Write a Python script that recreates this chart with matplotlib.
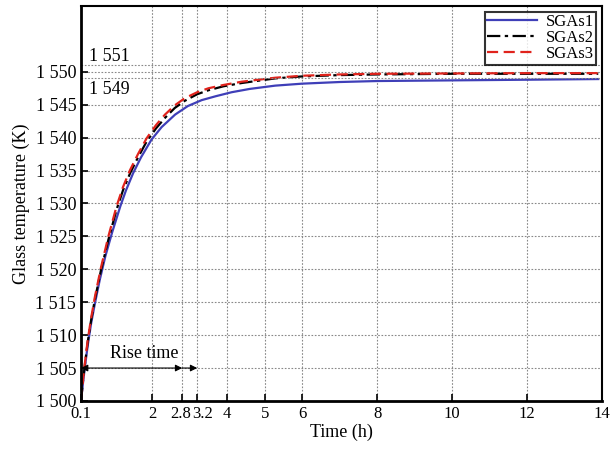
import numpy as np
import matplotlib
matplotlib.use('Agg')
import matplotlib.pyplot as plt
import matplotlib.transforms as mtransforms

plt.rcParams['font.family'] = ['Liberation Serif', 'DejaVu Serif']

# data
t1 = [0.1, 0.15, 0.2, 0.28, 0.37, 0.47, 0.6, 0.75, 0.93, 1.15, 1.3, 1.49, 1.7, 1.98, 2.25, 2.61,
      2.95, 3.32, 3.7, 4.12, 4.6, 5.28, 6.0, 7.0, 8.0, 10.0, 12.0, 13.9]
sgas1 = [1500, 1502.6, 1505, 1508.5, 1511.8, 1514.8, 1518.4, 1522, 1525.6, 1529.6, 1532, 1534.6, 1537, 1539.7, 1541.6, 1543.5,
         1544.8, 1545.7, 1546.3, 1546.9, 1547.4, 1547.9, 1548.2, 1548.45, 1548.6, 1548.7, 1548.8, 1548.9]

t23 = [0.1, 0.15, 0.2, 0.28, 0.37, 0.47, 0.63, 0.83, 1.05, 1.22, 1.41, 1.62, 1.85, 2.1, 2.34, 2.6,
       2.87, 3.2, 3.5, 3.9, 4.39, 5.28, 6.0, 7.0, 8.0, 10.0, 12.0, 13.9]
sgas2 = [1500, 1502.9, 1505.4, 1509.0, 1512.3, 1515.4, 1519.8, 1524.5, 1529.1, 1532.0, 1534.6, 1537.0, 1539.4, 1541.4, 1543.0, 1544.5,
         1545.6, 1546.6, 1547.2, 1547.8, 1548.3, 1549.0, 1549.3, 1549.5, 1549.6, 1549.7, 1549.7, 1549.7]
sgas3 = [1500, 1503, 1505.6, 1509.3, 1512.6, 1515.8, 1520.2, 1525, 1529.6, 1532.5, 1535.1, 1537.5, 1539.9, 1541.9, 1543.5, 1544.9,
         1546.0, 1546.9, 1547.5, 1548.0, 1548.5, 1549.1, 1549.4, 1549.6, 1549.7, 1549.75, 1549.8, 1549.8]

xticks = [0.1, 2, 2.8, 3.2, 4, 5, 6, 8, 10, 12, 14]
xticklabels = ['0.1', '2', '2.8', '3.2', '4', '5', '6', '8', '10', '12', '14']
yticks = [1500, 1505, 1510, 1515, 1520, 1525, 1530, 1535, 1540, 1545, 1550]
yticklabels = ['1 500', '1 505', '1 510', '1 515', '1 520', '1 525', '1 530', '1 535', '1 540', '1 545', '1 550']
extra_lines = [1549, 1551]

fig = plt.figure(figsize=(6.11, 4.5), dpi=100)
ax = fig.add_axes([0.1326, 0.109, 0.8527, 0.8777])

ax.plot(t1, sgas1, color='#3f3fb8', lw=1.6, label='SGAs1')
ax.plot(t23, sgas2, color='black', lw=1.6, dashes=(6, 2, 1.5, 2), label='SGAs2')
ax.plot(t23, sgas3, color='#e0231c', lw=1.6, dashes=(5, 2.5), label='SGAs3')

ax.set_xlim(0.1, 14)
ax.set_ylim(1500, 1560)
ax.set_xticks(xticks)
ax.set_xticklabels(xticklabels)
ax.set_yticks(yticks)
ax.set_yticklabels(yticklabels)
ax.grid(True, linestyle=(0, (1.5, 1.5)), color='#888888', lw=0.8)
for v in extra_lines:
    ax.axhline(v, linestyle=(0, (1.5, 1.5)), color='#888888', lw=0.8)

ax.text(0.32, 1552.4, '1 551', fontsize=13, va='center', ha='left')
ax.text(0.32, 1547.3, '1 549', fontsize=13, va='center', ha='left')

ax.annotate('', xy=(0.1, 1505), xytext=(2.8, 1505),
            arrowprops=dict(arrowstyle='<|-|>', color='black', lw=0.8,
                            shrinkA=0, shrinkB=0, mutation_scale=10))
ax.annotate('', xy=(3.2, 1505), xytext=(2.8, 1505),
            arrowprops=dict(arrowstyle='-|>', color='black', lw=0.8,
                            shrinkA=0, shrinkB=0, mutation_scale=10))
ax.text(1.78, 1507.2, 'Rise time', fontsize=13, ha='center', va='center')

ax.tick_params(direction='in', length=5, width=1.2, labelsize=13, top=False, right=False)
ax.tick_params(axis='x', labelsize=12)
for s in ['left', 'bottom']:
    ax.spines[s].set_linewidth(2)
for s in ['top', 'right']:
    ax.spines[s].set_linewidth(1.5)

# nudge the crowded 2.8 / 3.2 labels apart a little
labs = ax.get_xticklabels()
shifts = {'2.8': -2, '3.2': 5}
for lab in labs:
    dx = shifts.get(lab.get_text())
    if dx:
        lab.set_transform(lab.get_transform() + mtransforms.ScaledTranslation(dx / 100, 0, fig.dpi_scale_trans))

ax.set_xlabel('Time (h)', fontsize=13, labelpad=1)
ax.set_ylabel('Glass temperature (K)', fontsize=13, labelpad=4)

leg = ax.legend(loc='upper right', fontsize=12, frameon=True, fancybox=False,
                borderpad=0.15, labelspacing=0.0, handlelength=3.0, handletextpad=0.5,
                borderaxespad=0.35)
leg.get_frame().set_edgecolor('black')
leg.get_frame().set_linewidth(1.5)

fig.savefig('out.png', dpi=100)
